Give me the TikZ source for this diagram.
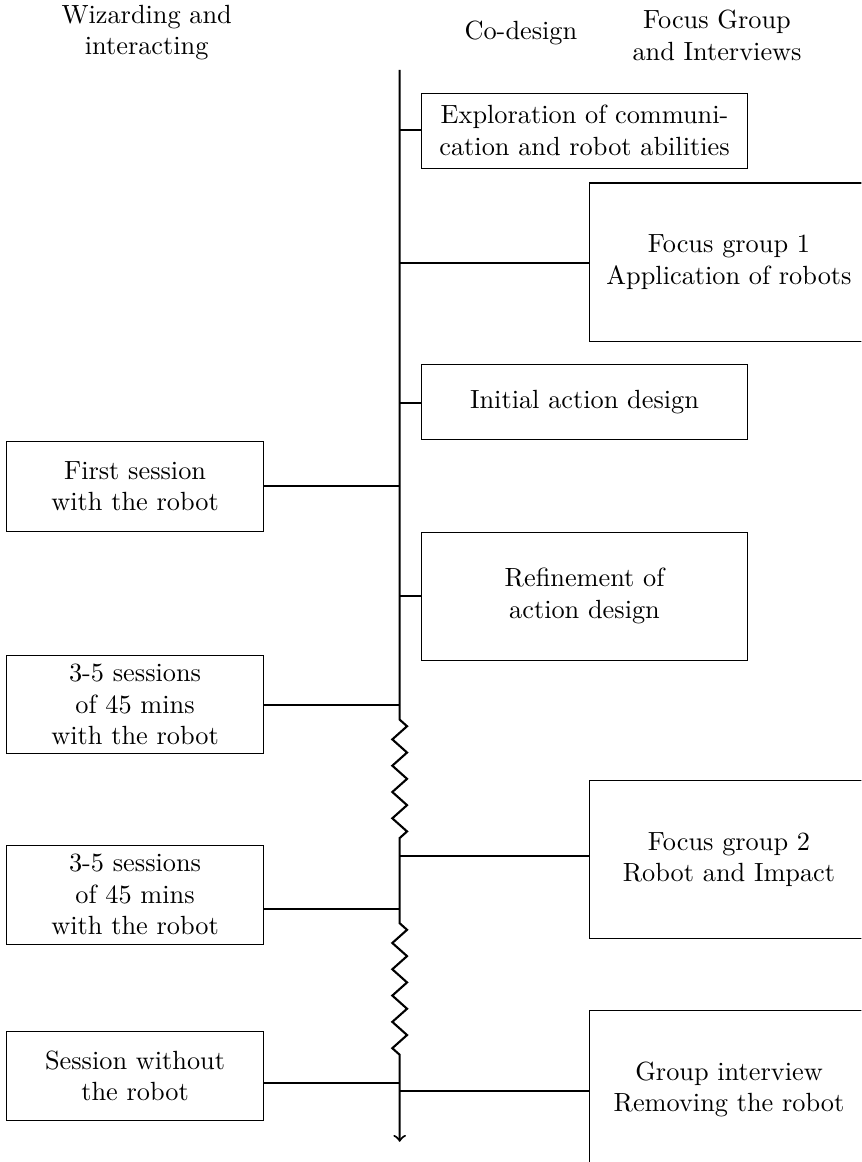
\documentclass[tikz,border=0pt]{standalone}
\usetikzlibrary{decorations.pathmorphing, positioning}

\begin{document}
\begin{tikzpicture}[
    wizard/.style={rectangle, draw, minimum width=3.43cm, minimum height=1.2cm, align=center},
    codesign/.style={rectangle, draw, minimum width=4.36cm, minimum height=1cm, align=center},
    focus/.style={rectangle, draw, minimum width=3.74cm, minimum height=2.12cm, align=center},
    heading/.style={align=center},
    timeline/.style={thick},
    link/.style={thick},
    zz/.style={decoration={zigzag, segment length=10pt, amplitude=2.8pt}}
]

\useasboundingbox (-5.34,0.935) rectangle (6.17,-14.59);
\clip (-5.34,0.935) rectangle (6.17,-14.59);

% Column headings
\node[heading] (hwizard) at (-3.38,0.50) {Wizarding and\\interacting};
\node[heading] (hcodesign) at (1.62,0.49) {Co-design};
\node[heading] (hfocus) at (4.24,0.46) {Focus Group\\and Interviews};

% Points on the timeline
\coordinate (top) at (0,0);
\coordinate (tExpl) at (0,-0.80);
\coordinate (tFocus1) at (0,-2.58);
\coordinate (tInit) at (0,-4.45);
\coordinate (tFirst) at (0,-5.56);
\coordinate (tRefine) at (0,-7.03);
\coordinate (tSessA) at (0,-8.48);
\coordinate (zig1a) at (0,-8.68);
\coordinate (zig1b) at (0,-10.28);
\coordinate (tFocus2) at (0,-10.50);
\coordinate (tSessB) at (0,-11.21);
\coordinate (zig2a) at (0,-11.40);
\coordinate (zig2b) at (0,-13.17);
\coordinate (tWithout) at (0,-13.53);
\coordinate (tInterview) at (0,-13.64);
\coordinate (end) at (0,-14.32);

% Boxes
\node[codesign] (explore) at (2.47,-0.81) {Exploration of communi-\\cation and robot abilities};
\node[focus] (focus1) at (4.40,-2.57) {Focus group 1\\Application of robots};
\node[codesign] (initial) at (2.47,-4.44) {Initial action design};
\node[wizard] (first) at (-3.535,-5.56) {First session\\with the robot};
\node[codesign, minimum height=1.71cm] (refine) at (2.47,-7.03) {Refinement of\\action design};
\node[wizard] (sessA) at (-3.535,-8.48) {3-5 sessions\\of 45 mins\\with the robot};
\node[focus] (focus2) at (4.40,-10.55) {Focus group 2\\Robot and Impact};
\node[wizard] (sessB) at (-3.535,-11.02) {3-5 sessions\\of 45 mins\\with the robot};
\node[wizard] (without) at (-3.535,-13.44) {Session without\\the robot};
\node[focus] (interview) at (4.40,-13.62) {Group interview\\Removing the robot};

% Timeline
\draw[timeline, ->] (top) -- (zig1a) decorate[zz] {-- (zig1b)} -- (zig2a) decorate[zz] {-- (zig2b)} -- (end);

% Links
\draw[link] (tExpl) -- (tExpl -| explore.west);
\draw[link] (tFocus1) -- (tFocus1 -| focus1.west);
\draw[link] (tInit) -- (tInit -| initial.west);
\draw[link] (tFirst) -- (tFirst -| first.east);
\draw[link] (tRefine) -- (tRefine -| refine.west);
\draw[link] (tSessA) -- (tSessA -| sessA.east);
\draw[link] (tFocus2) -- (tFocus2 -| focus2.west);
\draw[link] (tSessB) -- (tSessB -| sessB.east);
\draw[link] (tWithout) -- (tWithout -| without.east);
\draw[link] (tInterview) -- (tInterview -| interview.west);

\end{tikzpicture}
\end{document}
